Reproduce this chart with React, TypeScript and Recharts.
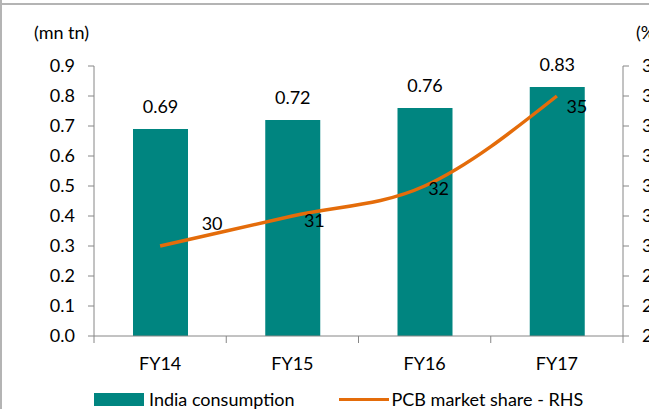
import React from 'react';
import { ComposedChart, Bar, Line, XAxis, YAxis, LabelList } from 'recharts';

const categories = ['FY14', 'FY15', 'FY16', 'FY17'];
const consumption = [0.69, 0.72, 0.76, 0.83];
const pcbShare = [30, 31, 32, 35];
const leftTicks = [0, 0.1, 0.2, 0.3, 0.4, 0.5, 0.6, 0.7, 0.8, 0.9];
const rightTicks = [27, 28, 29, 30, 31, 32, 33, 34, 35, 36];
const seriesNames = ['India consumption', 'PCB market share - RHS'];

const data = categories.map((c, i) => ({ name: c, consumption: consumption[i], share: pcbShare[i] }));

const FONT = 'Lato, sans-serif';
const AXIS = '#868686';
const TEAL = '#008580';
const ORANGE = '#E46C0A';

const lineLabelOffsets = [
  [52, -23],
  [22, 4],
  [14, 2],
  [20, 10],
];

const XTick = (props: any) => {
  const { x, y, payload, index, visibleTicksCount } = props;
  const off = payload && payload.offset ? payload.offset : 66;
  const axisY = y - 7;
  const last = index === (visibleTicksCount || 4) - 1;
  return (
    <g>
      <line x1={x - off} x2={x - off} y1={axisY} y2={axisY + 7} stroke={AXIS} strokeWidth={1} />
      {last && <line x1={x + off} x2={x + off} y1={axisY} y2={axisY + 7} stroke={AXIS} strokeWidth={1} />}
      <text x={x} y={axisY + 27} textAnchor="middle" dominantBaseline="central" fontFamily={FONT} fontSize={18} fill="#000">
        {payload.value}
      </text>
    </g>
  );
};

const LineLabel = (props: any) => {
  const { x, y, value, index } = props;
  const o = lineLabelOffsets[index] || [14, 0];
  return (
    <text x={x + o[0]} y={y + o[1]} textAnchor="middle" dominantBaseline="central" fontFamily={FONT} fontSize={18} fill="#000">
      {value}
    </text>
  );
};

const BarLabel = (props: any) => {
  const { x, y, width, value } = props;
  return (
    <text x={x + width / 2} y={y - 23} textAnchor="middle" dominantBaseline="central" fontFamily={FONT} fontSize={18} fill="#000">
      {Number(value).toFixed(2)}
    </text>
  );
};

export default function App() {
  return (
    <div style={{ position: 'absolute', left: 0, top: 0, width: 649, height: 409, background: '#fff', overflow: 'hidden' }}>
      <div style={{ position: 'absolute', left: 0, top: 0, width: 2, height: 409, background: '#b4b4b4' }} />
      <div style={{ position: 'absolute', left: 0, top: 3, width: 649, height: 2, background: '#b4b4b4' }} />
      <div style={{ position: 'absolute', left: 34, top: 21, fontFamily: FONT, fontSize: 18, whiteSpace: 'nowrap' }}>(mn tn)</div>
      <div style={{ position: 'absolute', left: 636, top: 21, fontFamily: FONT, fontSize: 18, whiteSpace: 'nowrap' }}>(%)</div>
      <ComposedChart
        width={649}
        height={409}
        data={data}
        margin={{ top: 66, right: 0, bottom: 33, left: 0 }}
        barCategoryGap={0}
      >
        <XAxis
          dataKey="name"
          axisLine={{ stroke: AXIS }}
          tickLine={false}
          tickSize={7}
          tickMargin={0}
          height={40}
          tick={<XTick />}
          interval={0}
        />
        <YAxis
          yAxisId="left"
          orientation="left"
          width={94}
          domain={[0, 0.9]}
          ticks={leftTicks}
          interval={0}
          tickFormatter={(v: number) => v.toFixed(1)}
          axisLine={{ stroke: AXIS }}
          tickLine={{ stroke: AXIS }}
          tickSize={6}
          tickMargin={13}
          tick={{ fontFamily: FONT, fontSize: 18, fill: '#000' }}
        />
        <YAxis
          yAxisId="right"
          orientation="right"
          width={26}
          domain={[27, 36]}
          ticks={rightTicks}
          interval={0}
          axisLine={{ stroke: AXIS }}
          tickLine={{ stroke: AXIS }}
          tickSize={6}
          tickMargin={13}
          tick={{ fontFamily: FONT, fontSize: 18, fill: '#000' }}
        />
        <Bar yAxisId="left" dataKey="consumption" name={seriesNames[0]} fill={TEAL} barSize={55} isAnimationActive={false}>
          <LabelList dataKey="consumption" content={<BarLabel />} />
        </Bar>
        <Line
          yAxisId="right"
          dataKey="share"
          name={seriesNames[1]}
          type="monotone"
          stroke={ORANGE}
          strokeWidth={3.5}
          dot={false}
          isAnimationActive={false}
        >
          <LabelList dataKey="share" content={<LineLabel />} />
        </Line>
      </ComposedChart>
      <div
        style={{
          position: 'absolute',
          top: 389,
          left: 0,
          width: 649,
          display: 'flex',
          alignItems: 'center',
          fontFamily: FONT,
          fontSize: 18,
          color: '#000',
          height: 20,
        }}
      >
        <span style={{ display: 'inline-block', width: 50, height: 13, background: TEAL, marginLeft: 94 }} />
        <span style={{ marginLeft: 5 }}>{seriesNames[0]}</span>
        <span style={{ display: 'inline-block', width: 50, height: 3, background: ORANGE, marginLeft: 44 }} />
        <span style={{ marginLeft: 3 }}>{seriesNames[1]}</span>
      </div>
    </div>
  );
}
